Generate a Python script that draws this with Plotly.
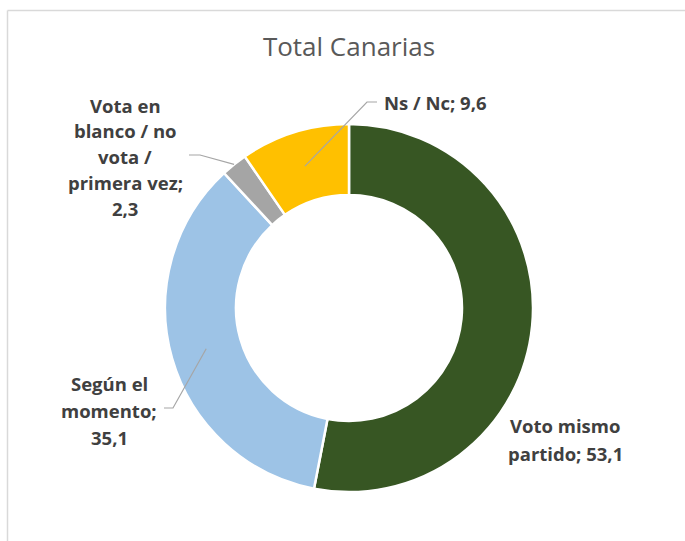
import math
import plotly.graph_objects as go

# Survey shares (%), clockwise from 12 o'clock
categories = ["Voto mismo partido", "Según el momento",
              "Vota en blanco / no vota / primera vez", "Ns / Nc"]
values = [53.1, 35.1, 2.3, 9.6]
colors = ["#375623", "#9DC3E6", "#A5A5A5", "#FFC000"]

# Label text lines per slice (Spanish decimal comma)
label_lines = [
    ["Voto mismo", "partido; 53,1"],
    ["Según el", "momento;", "35,1"],
    ["Vota en", "blanco / no", "vota /", "primera vez;", "2,3"],
    ["Ns / Nc; 9,6"],
]

W, H = 685, 541
CX, CY = 349, 308          # donut centre (px)
R_OUT, R_IN = 184, 113     # outer / inner radius (px)

def px(x):
    return x / W

def py(y):
    return 1 - y / H

fig = go.Figure(go.Pie(
    labels=categories,
    values=values,
    marker=dict(colors=colors, line=dict(color="white", width=2.5)),
    hole=R_IN / R_OUT,
    sort=False,
    direction="clockwise",
    rotation=0,
    textinfo="none",
    hoverinfo="label+value",
    showlegend=False,
    domain=dict(x=[px(CX - R_OUT), px(CX + R_OUT)],
                y=[py(CY + R_OUT), py(CY - R_OUT)]),
))

# Slice mid-angles (degrees clockwise from top)
total = sum(values)
mids = []
acc = 0
for v in values:
    mids.append((acc + v / 2) / total * 360)
    acc += v

def on_ring(angle_deg, r):
    a = math.radians(angle_deg)
    return CX + r * math.sin(a), CY - r * math.cos(a)

# Label placement: (centre x, first-line y, line spacing, anchor)
label_layout = [
    dict(x=565, y=425, dy=28, xanchor="center"),
    dict(x=109, y=383, dy=27, xanchor="center"),
    dict(x=125, y=105, dy=25.8, xanchor="center"),
    dict(x=382, y=103, dy=26, xanchor="left"),
]

annotations = []
for lines, lay in zip(label_lines, label_layout):
    for i, t in enumerate(lines):
        annotations.append(dict(
            text=t, x=px(lay["x"]), y=py(lay["y"] + i * lay["dy"]),
            xref="paper", yref="paper", xanchor=lay["xanchor"], yanchor="middle",
            showarrow=False,
            font=dict(family="Open Sans", size=18.5, color="#404040", weight="bold"),
        ))

# Leader lines: slice anchor -> elbow -> end next to the label
leader = {
    1: dict(r=(R_IN + R_OUT) / 2, elbow=(173, 408), end=(164, 408)),
    2: dict(r=R_OUT, elbow=(200, 155), end=(189, 155)),
    3: dict(r=(R_IN + R_OUT) / 2, elbow=(367, 102), end=(377, 102)),
}
shapes = []
for idx, spec in leader.items():
    ax, ay = on_ring(mids[idx], spec["r"])
    ex, ey = spec["elbow"]
    fx, fy = spec["end"]
    shapes.append(dict(
        type="path", xref="paper", yref="paper",
        path=f"M {px(ax)},{py(ay)} L {px(ex)},{py(ey)} L {px(fx)},{py(fy)}",
        line=dict(color="#A6A6A6", width=1.2),
    ))

# Chart-area frame (top and left edges)
frame = dict(color="#D9D9D9", width=1.5)
shapes.append(dict(type="line", xref="paper", yref="paper",
                   x0=px(7.5), y0=py(10.5), x1=1, y1=py(10.5), line=frame))
shapes.append(dict(type="line", xref="paper", yref="paper",
                   x0=px(7.5), y0=py(10.5), x1=px(7.5), y1=0, line=frame))

fig.update_layout(
    width=W, height=H,
    margin=dict(l=0, r=0, t=0, b=0),
    paper_bgcolor="white",
    plot_bgcolor="white",
    title=dict(text="Total Canarias", x=px(CX), y=py(47),
               xanchor="center", yanchor="middle",
               font=dict(family="Open Sans", size=26, color="#595959")),
    annotations=annotations,
    shapes=shapes,
)

fig.write_html("out.html")
